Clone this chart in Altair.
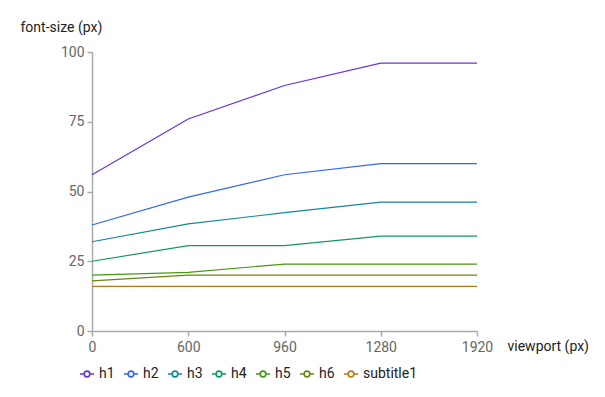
import altair as alt
import pandas as pd

viewports = ["0", "600", "960", "1280", "1920"]
series = ["h1", "h2", "h3", "h4", "h5", "h6", "subtitle1"]
h1 = [56, 76, 88, 96, 96]
h2 = [38, 48, 56, 60, 60]
h3 = [32, 38.4, 42.4, 46.2, 46.2]
h4 = [25, 30.6, 30.6, 34, 34]
h5 = [20, 21, 24, 24, 24]
h6 = [18, 20, 20, 20, 20]
subtitle1 = [16, 16, 16, 16, 16]
colors = ["#6633dd", "#3366ee", "#118899", "#119966", "#449911", "#668811", "#bb7711"]

values = [h1, h2, h3, h4, h5, h6, subtitle1]
rows = []
for name, vals in zip(series, values):
    for i, (vp, v) in enumerate(zip(viewports, vals)):
        rows.append({"viewport": vp, "idx": i, "size": v, "series": name})
df = pd.DataFrame(rows)

sym = "M-1,0H-0.4M0.4,0H1M-0.4,0A0.4,0.4 0 1,1 0.4,0A0.4,0.4 0 1,1 -0.4,0Z"

chart = alt.Chart(df).mark_line(strokeWidth=1.2).encode(
    x=alt.X("viewport:O", sort=viewports, scale=alt.Scale(type="point", padding=0),
            axis=alt.Axis(title="viewport (px)", labelAngle=0, titleAngle=0,
                          titleX=415, titleY=15, titleAlign="left", titleBaseline="middle",
                          labelPadding=4)),
    y=alt.Y("size:Q", scale=alt.Scale(domain=[0, 100]),
            axis=alt.Axis(title="font-size (px)", values=[0, 25, 50, 75, 100], grid=False,
                          titleAngle=0, titleX=-72, titleY=-25, titleAlign="left",
                          titleBaseline="middle", labelPadding=3)),
    color=alt.Color("series:N", sort=series,
                    scale=alt.Scale(domain=series, range=colors),
                    legend=alt.Legend(title=None, orient="none", direction="horizontal",
                                      legendX=-13, legendY=314, columns=7,
                                      symbolType=sym, symbolSize=200, symbolStrokeWidth=1.6,
                                      symbolFillColor="white", labelFontSize=14,
                                      labelColor="#222", labelFont="Roboto",
                                      columnPadding=5, labelOffset=4)),
    order=alt.Order("idx:Q"),
).properties(
    width=385, height=279,
    autosize=alt.AutoSizeParams(type="none"),
    padding={"left": 84, "top": 44, "right": 112, "bottom": 58},
).configure_axis(
    domainColor="#aaaaaa", domainWidth=1.5, tickColor="#aaaaaa", tickWidth=1.5, tickSize=5,
    labelColor="#666666", labelFontSize=14, labelFont="Roboto",
    titleColor="#222222", titleFontSize=14, titleFont="Roboto", titleFontWeight="normal",
).configure_view(stroke=None)

chart.save("out.html", embed_options={"renderer": "svg", "actions": False})
